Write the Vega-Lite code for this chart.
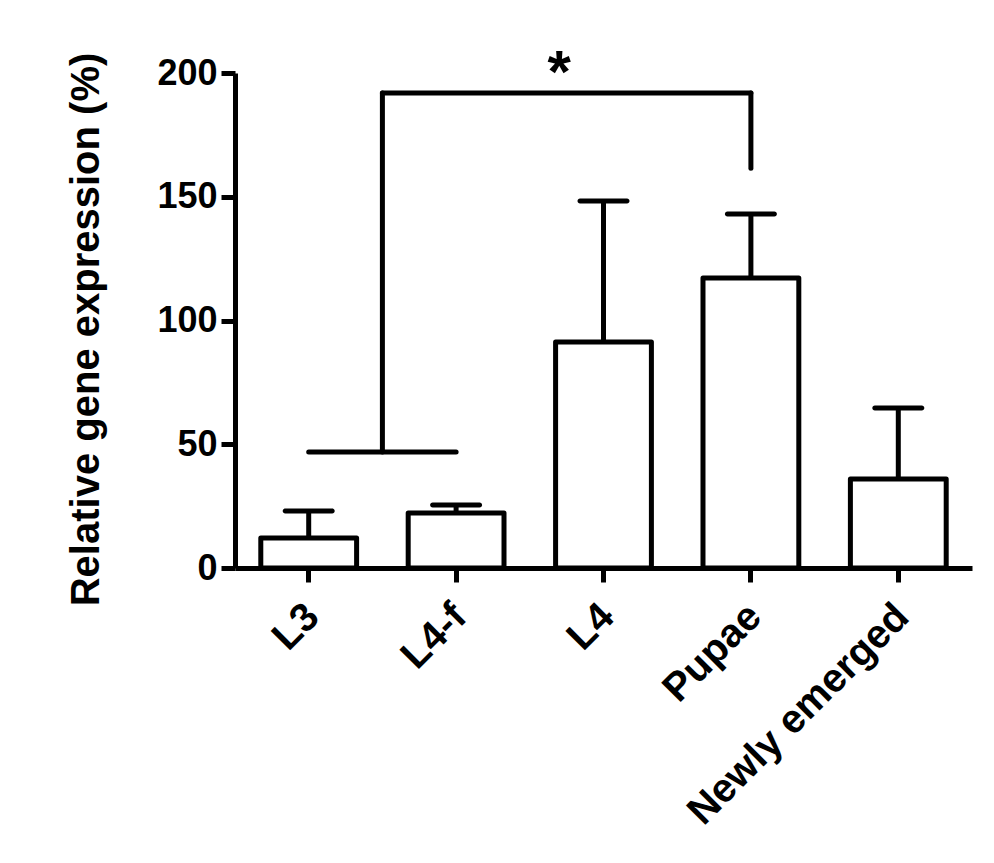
{
  "$schema": "https://vega.github.io/schema/vega-lite/v6.json",
  "autosize": "none",
  "width": 737,
  "height": 495,
  "padding": {"left": 235, "top": 73, "right": 22, "bottom": 295},
  "background": "white",
  "config": {"view": {"stroke": null}, "font": "Liberation Sans"},
  "datasets": {
    "bars": [
      {"stage": "L3", "mean": 12.1, "upper": 23.0},
      {"stage": "L4-f", "mean": 22.2, "upper": 25.5},
      {"stage": "L4", "mean": 91.3, "upper": 148.3},
      {"stage": "Pupae", "mean": 117.2, "upper": 143.0},
      {"stage": "Newly emerged", "mean": 36.0, "upper": 64.6}
    ],
    "bracket": [
      {"x1": 0.5, "x2": 1.5, "y1": 46.9, "y2": 46.9},
      {"x1": 1.0, "x2": 1.0, "y1": 46.9, "y2": 191.9},
      {"x1": 1.0, "x2": 3.5, "y1": 191.9, "y2": 191.9},
      {"x1": 3.5, "x2": 3.5, "y1": 191.9, "y2": 161.5}
    ],
    "star": [{"x": 2.2, "y": 192.5, "label": "*"}]
  },
  "layer": [
    {
      "data": {"name": "bars"},
      "layer": [
        {
          "mark": {"type": "bar", "fill": "white", "stroke": "black", "strokeWidth": 5, "strokeJoin": "round"},
          "encoding": {
            "x": {
              "field": "stage", "type": "nominal", "sort": null,
              "scale": {"paddingInner": 0.35, "paddingOuter": 0.175},
              "axis": {
                "title": null, "labelAngle": -45, "labelFontSize": 40, "labelFontWeight": "bold",
                "labelColor": "black", "tickSize": 14, "tickWidth": 5, "tickColor": "black",
                "domainWidth": 5, "domainColor": "black", "labelPadding": 14, "labelOffset": -10, "labelLimit": 0
              }
            },
            "y": {
              "field": "mean", "type": "quantitative",
              "scale": {"domain": [0, 200], "nice": false},
              "axis": {
                "values": [0, 50, 100, 150, 200], "grid": false,
                "title": "Relative gene expression (%)", "titleFontSize": 40, "titleFontWeight": "bold",
                "titleColor": "black", "titleX": -137, "titleY": 256, "titleAngle": -90,
                "titleBaseline": "alphabetic", "titleAlign": "center",
                "labelFontSize": 36, "labelFontWeight": "bold", "labelColor": "black",
                "tickSize": 14, "tickWidth": 5, "tickColor": "black",
                "domainWidth": 5, "domainColor": "black", "labelPadding": 4
              }
            }
          }
        },
        {
          "mark": {"type": "rule", "strokeWidth": 5, "color": "black"},
          "encoding": {
            "x": {"field": "stage", "type": "nominal", "sort": null},
            "y": {"field": "mean", "type": "quantitative"},
            "y2": {"field": "upper"}
          }
        },
        {
          "mark": {"type": "tick", "orient": "horizontal", "size": 52, "thickness": 5, "color": "black", "opacity": 1, "cornerRadius": 2.5},
          "encoding": {
            "x": {"field": "stage", "type": "nominal", "sort": null},
            "y": {"field": "upper", "type": "quantitative"}
          }
        }
      ]
    },
    {
      "data": {"name": "bracket"},
      "mark": {"type": "rule", "strokeWidth": 5, "color": "black", "strokeCap": "round"},
      "encoding": {
        "x": {"field": "x1", "type": "quantitative", "scale": {"domain": [0, 5], "nice": false, "zero": false}, "axis": null},
        "x2": {"field": "x2"},
        "y": {"field": "y1", "type": "quantitative"},
        "y2": {"field": "y2"}
      }
    },
    {
      "data": {"name": "star"},
      "mark": {"type": "text", "fontSize": 60, "fontWeight": "bold", "baseline": "alphabetic", "align": "center", "color": "black"},
      "encoding": {
        "x": {"field": "x", "type": "quantitative", "scale": {"domain": [0, 5], "nice": false, "zero": false}, "axis": null},
        "y": {"field": "y", "type": "quantitative"},
        "text": {"field": "label"}
      }
    }
  ],
  "resolve": {"scale": {"x": "independent"}}
}
